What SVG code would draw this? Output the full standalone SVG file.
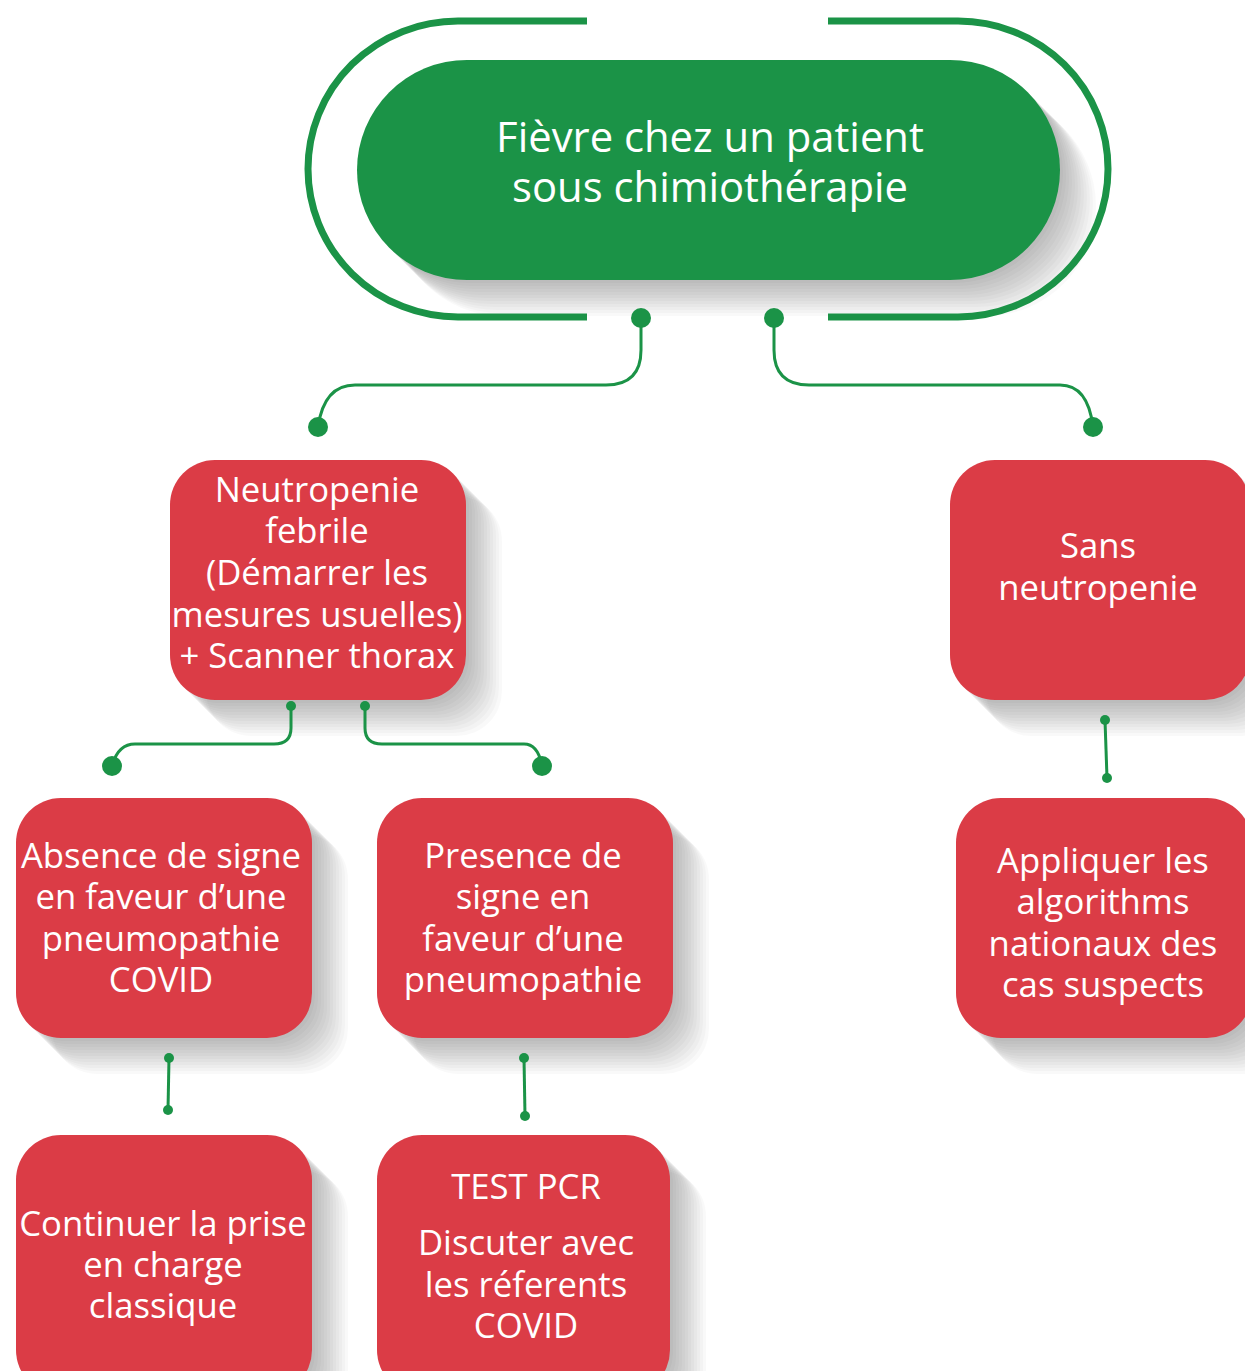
<svg xmlns="http://www.w3.org/2000/svg" xmlns:xlink="http://www.w3.org/1999/xlink" width="1245" height="1371" viewBox="0 0 1245 1371">
<style>
.box{fill:#db3c46}
.pill{fill:#1b9347}
.sh use{fill:#000;fill-opacity:0.022}
text{font-family:"Open Sans","Noto Sans","Liberation Sans",sans-serif;fill:#fff;text-anchor:middle}
.t{font-size:34.7px}
.tt{font-size:41.8px}
.ln{fill:none;stroke:#1b9347;stroke-width:3}
.br{fill:none;stroke:#1b9347;stroke-width:7}
.dot{fill:#1b9347}
</style>
<defs>
<rect id="s-top" x="357" y="60" width="703" height="220" rx="110"/>
<rect id="s-neu" x="170" y="460" width="296" height="240" rx="45"/>
<rect id="s-sans" x="950" y="460" width="300" height="240" rx="45"/>
<rect id="s-abs" x="16" y="798" width="296" height="240" rx="45"/>
<rect id="s-pre" x="377" y="798" width="296" height="240" rx="45"/>
<rect id="s-app" x="956" y="798" width="296" height="240" rx="45"/>
<rect id="s-con" x="16" y="1135" width="296" height="260" rx="45"/>
<rect id="s-pcr" x="377" y="1135" width="293" height="260" rx="45"/>
</defs>

<g id="top-node">
<g class="sh"><use href="#s-top" x="3" y="3"/><use href="#s-top" x="6" y="6"/><use href="#s-top" x="9" y="9"/><use href="#s-top" x="12" y="12"/><use href="#s-top" x="15" y="15"/><use href="#s-top" x="18" y="18"/><use href="#s-top" x="21" y="21"/><use href="#s-top" x="24" y="24"/><use href="#s-top" x="27" y="27"/><use href="#s-top" x="30" y="30"/><use href="#s-top" x="33" y="33"/><use href="#s-top" x="36" y="36"/></g>
<path class="br" d="M587,21 H458 A150,148 0 0 0 308,169 A150,148 0 0 0 458,317 H587"/>
<path class="br" d="M828,21 H958 A150,148 0 0 1 1108,169 A150,148 0 0 1 958,317 H828"/>
<use href="#s-top" class="pill"/>
<text class="tt" x="710" y="152">Fièvre chez un patient</text>
<text class="tt" x="710" y="202">sous chimiothérapie</text>
</g>

<g id="neutropenie">
<g class="sh"><use href="#s-neu" x="3" y="3"/><use href="#s-neu" x="6" y="6"/><use href="#s-neu" x="9" y="9"/><use href="#s-neu" x="12" y="12"/><use href="#s-neu" x="15" y="15"/><use href="#s-neu" x="18" y="18"/><use href="#s-neu" x="21" y="21"/><use href="#s-neu" x="24" y="24"/><use href="#s-neu" x="27" y="27"/><use href="#s-neu" x="30" y="30"/><use href="#s-neu" x="33" y="33"/><use href="#s-neu" x="36" y="36"/></g>
<use href="#s-neu" class="box"/>
<text class="t" x="317" y="502">Neutropenie</text>
<text class="t" x="317" y="543">febrile</text>
<text class="t" x="317" y="585">(Démarrer les</text>
<text class="t" x="317" y="627">mesures usuelles)</text>
<text class="t" x="317" y="668">+ Scanner thorax</text>
</g>

<g id="sans-neutropenie">
<g class="sh"><use href="#s-sans" x="3" y="3"/><use href="#s-sans" x="6" y="6"/><use href="#s-sans" x="9" y="9"/><use href="#s-sans" x="12" y="12"/><use href="#s-sans" x="15" y="15"/><use href="#s-sans" x="18" y="18"/><use href="#s-sans" x="21" y="21"/><use href="#s-sans" x="24" y="24"/><use href="#s-sans" x="27" y="27"/><use href="#s-sans" x="30" y="30"/><use href="#s-sans" x="33" y="33"/><use href="#s-sans" x="36" y="36"/></g>
<use href="#s-sans" class="box"/>
<text class="t" x="1098" y="558">Sans</text>
<text class="t" x="1098" y="600">neutropenie</text>
</g>

<g id="absence">
<g class="sh"><use href="#s-abs" x="3" y="3"/><use href="#s-abs" x="6" y="6"/><use href="#s-abs" x="9" y="9"/><use href="#s-abs" x="12" y="12"/><use href="#s-abs" x="15" y="15"/><use href="#s-abs" x="18" y="18"/><use href="#s-abs" x="21" y="21"/><use href="#s-abs" x="24" y="24"/><use href="#s-abs" x="27" y="27"/><use href="#s-abs" x="30" y="30"/><use href="#s-abs" x="33" y="33"/><use href="#s-abs" x="36" y="36"/></g>
<use href="#s-abs" class="box"/>
<text class="t" x="161" y="868">Absence de signe</text>
<text class="t" x="161" y="909">en faveur d’une</text>
<text class="t" x="161" y="951">pneumopathie</text>
<text class="t" x="161" y="992">COVID</text>
</g>

<g id="presence">
<g class="sh"><use href="#s-pre" x="3" y="3"/><use href="#s-pre" x="6" y="6"/><use href="#s-pre" x="9" y="9"/><use href="#s-pre" x="12" y="12"/><use href="#s-pre" x="15" y="15"/><use href="#s-pre" x="18" y="18"/><use href="#s-pre" x="21" y="21"/><use href="#s-pre" x="24" y="24"/><use href="#s-pre" x="27" y="27"/><use href="#s-pre" x="30" y="30"/><use href="#s-pre" x="33" y="33"/><use href="#s-pre" x="36" y="36"/></g>
<use href="#s-pre" class="box"/>
<text class="t" x="523" y="868">Presence de</text>
<text class="t" x="523" y="909">signe en</text>
<text class="t" x="523" y="951">faveur d’une</text>
<text class="t" x="523" y="992">pneumopathie</text>
</g>

<g id="appliquer">
<g class="sh"><use href="#s-app" x="3" y="3"/><use href="#s-app" x="6" y="6"/><use href="#s-app" x="9" y="9"/><use href="#s-app" x="12" y="12"/><use href="#s-app" x="15" y="15"/><use href="#s-app" x="18" y="18"/><use href="#s-app" x="21" y="21"/><use href="#s-app" x="24" y="24"/><use href="#s-app" x="27" y="27"/><use href="#s-app" x="30" y="30"/><use href="#s-app" x="33" y="33"/><use href="#s-app" x="36" y="36"/></g>
<use href="#s-app" class="box"/>
<text class="t" x="1103" y="873">Appliquer les</text>
<text class="t" x="1103" y="914">algorithms</text>
<text class="t" x="1103" y="956">nationaux des</text>
<text class="t" x="1103" y="997">cas suspects</text>
</g>

<g id="continuer">
<g class="sh"><use href="#s-con" x="3" y="3"/><use href="#s-con" x="6" y="6"/><use href="#s-con" x="9" y="9"/><use href="#s-con" x="12" y="12"/><use href="#s-con" x="15" y="15"/><use href="#s-con" x="18" y="18"/><use href="#s-con" x="21" y="21"/><use href="#s-con" x="24" y="24"/><use href="#s-con" x="27" y="27"/><use href="#s-con" x="30" y="30"/><use href="#s-con" x="33" y="33"/><use href="#s-con" x="36" y="36"/></g>
<use href="#s-con" class="box"/>
<text class="t" x="163" y="1236">Continuer la prise</text>
<text class="t" x="163" y="1277">en charge</text>
<text class="t" x="163" y="1318">classique</text>
</g>

<g id="test-pcr">
<g class="sh"><use href="#s-pcr" x="3" y="3"/><use href="#s-pcr" x="6" y="6"/><use href="#s-pcr" x="9" y="9"/><use href="#s-pcr" x="12" y="12"/><use href="#s-pcr" x="15" y="15"/><use href="#s-pcr" x="18" y="18"/><use href="#s-pcr" x="21" y="21"/><use href="#s-pcr" x="24" y="24"/><use href="#s-pcr" x="27" y="27"/><use href="#s-pcr" x="30" y="30"/><use href="#s-pcr" x="33" y="33"/><use href="#s-pcr" x="36" y="36"/></g>
<use href="#s-pcr" class="box"/>
<text class="t" x="526" y="1199">TEST PCR</text>
<text class="t" x="526" y="1255">Discuter avec</text>
<text class="t" x="526" y="1297">les réferents</text>
<text class="t" x="526" y="1338">COVID</text>
</g>

<g id="connectors">
<path class="ln" d="M641,318 V350 Q641,385 606,385 H355 Q324,385 318,427"/>
<path class="ln" d="M774,318 V350 Q774,385 809,385 H1060 Q1088,385 1093,427"/>
<circle class="dot" cx="641" cy="318" r="10"/>
<circle class="dot" cx="774" cy="318" r="10"/>
<circle class="dot" cx="318" cy="427" r="10"/>
<circle class="dot" cx="1093" cy="427" r="10"/>
<path class="ln" d="M291,706 V728 Q291,744 274,744 H135 Q118,744 112,766"/>
<path class="ln" d="M365,706 V728 Q365,744 382,744 H524 Q538,744 542,766"/>
<circle class="dot" cx="291" cy="706" r="5"/>
<circle class="dot" cx="365" cy="706" r="5"/>
<circle class="dot" cx="112" cy="766" r="10"/>
<circle class="dot" cx="542" cy="766" r="10"/>
<path class="ln" d="M169,1058 L168,1110"/>
<circle class="dot" cx="169" cy="1058" r="5"/>
<circle class="dot" cx="168" cy="1110" r="5"/>
<path class="ln" d="M524,1058 L525,1116"/>
<circle class="dot" cx="524" cy="1058" r="5"/>
<circle class="dot" cx="525" cy="1116" r="5"/>
<path class="ln" d="M1105,720 L1107,778"/>
<circle class="dot" cx="1105" cy="720" r="5"/>
<circle class="dot" cx="1107" cy="778" r="5"/>
</g>
</svg>
